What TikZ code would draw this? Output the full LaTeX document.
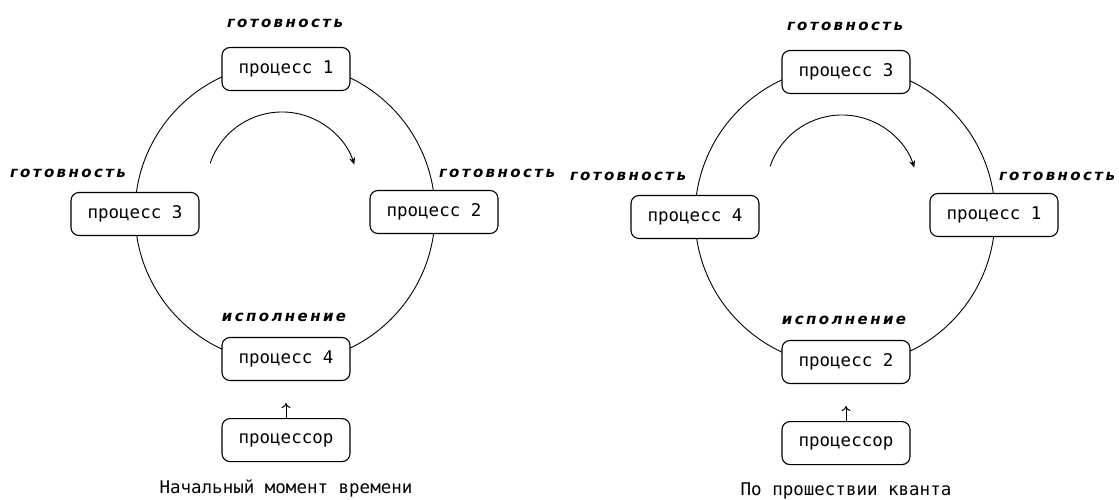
\documentclass[tikz,border=0pt]{standalone}
\usepackage{fontspec}
\usetikzlibrary{positioning,arrows.meta}
\newfontfamily\procfont{DejaVu Sans Mono}
\newfontfamily\statefont{DejaVu Sans}[LetterSpace=16]

\tikzset{
    proc/.style={draw, fill=white, rounded corners=8pt, line width=1.1pt,
        minimum width=128pt, minimum height=43pt, inner sep=0pt,
        font=\procfont\fontsize{17.5}{18}\selectfont},
    state/.style={inner sep=0pt, font=\statefont\bfseries\itshape\fontsize{15}{15}\selectfont},
    caption/.style={inner sep=0pt, font=\procfont\fontsize{17.5}{18}\selectfont},
    ring/.style={line width=0.9pt},
    turn/.style={line width=0.9pt, -{Stealth[length=7pt,width=6pt]}}
}

\begin{document}
\begin{tikzpicture}[x=1pt, y=1pt]
    \useasboundingbox (0,0) rectangle (1119,500);

    % initial moment
    \begin{scope}
        \coordinate (startC) at (285,287);
        \draw[ring] (startC) circle (150);
        \draw[turn] ([shift={(161:76)}]282,312) arc[start angle=161, end angle=18, radius=76];
        \node[proc] (startTop) at (286,431) {процесс 1};
        \node[proc] (startLeft) at (135,286) {процесс 3};
        \node[proc] (startRight) at (434,288) {процесс 2};
        \node[proc] (startRun) at (286,141) {процесс 4};
        \node[proc, below=37pt of startRun] (startCpu) {процессор};
        \draw[-{To[length=5pt,width=9pt]}, line width=1pt, shorten >=22pt] (startCpu) -- (startRun);
        \node[state] at (285,477) {готовность};
        \node[state] at (68,327) {готовность};
        \node[state] at (497,327) {готовность};
        \node[state] at (284,183) {исполнение};
        \node[caption] at (286,12) {Начальный момент времени};
    \end{scope}

    % after one quantum
    \begin{scope}[shift={(560,-3)}]
        \coordinate (laterC) at (285,287);
        \draw[ring] (laterC) circle (150);
        \draw[turn] ([shift={(161:76)}]282,312) arc[start angle=161, end angle=18, radius=76];
        \node[proc] (laterTop) at (286,431) {процесс 3};
        \node[proc] (laterLeft) at (135,286) {процесс 4};
        \node[proc] (laterRight) at (434,288) {процесс 1};
        \node[proc] (laterRun) at (286,141) {процесс 2};
        \node[proc, below=37pt of laterRun] (laterCpu) {процессор};
        \draw[-{To[length=5pt,width=9pt]}, line width=1pt, shorten >=22pt] (laterCpu) -- (laterRun);
        \node[state] at (285,477) {готовность};
        \node[state] at (68,327) {готовность};
        \node[state] at (497,327) {готовность};
        \node[state] at (284,183) {исполнение};
        \node[caption] at (286,12) {По прошествии кванта};
    \end{scope}
\end{tikzpicture}
\end{document}
